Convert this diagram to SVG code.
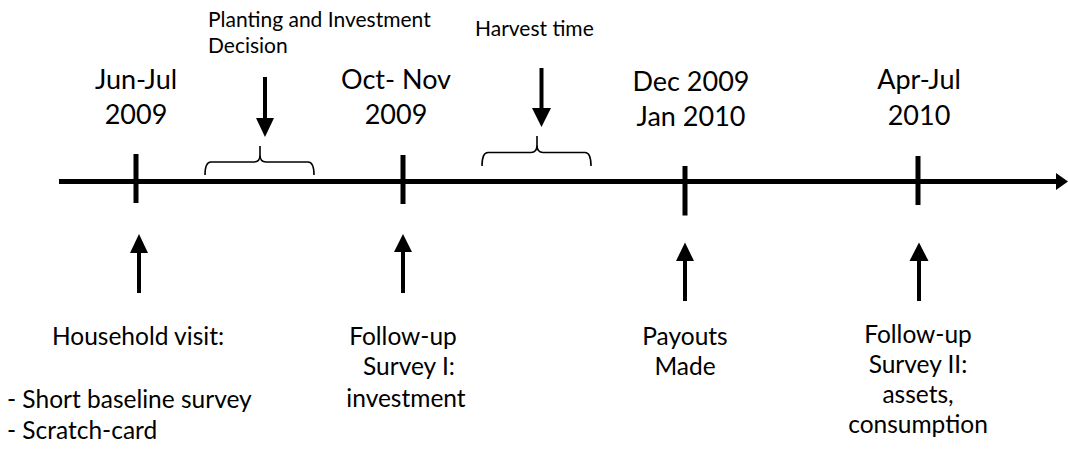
<svg xmlns="http://www.w3.org/2000/svg" width="1068" height="450" viewBox="0 0 1068 450">
<defs>
<style>
text{font-family:Lato,"Open Sans","Liberation Sans",sans-serif;fill:#000}
.big{font-size:27px;text-anchor:middle}
.mid{font-size:24.5px;text-anchor:middle}
.lft{font-size:24.5px}
.sm{font-size:21px}
.tick{stroke:#000;stroke-width:5;fill:none}
.shaft{stroke:#000;stroke-width:4;fill:none}
.brace{stroke:#000;stroke-width:1.6;fill:none}
.head{fill:#000}
</style>
</defs>
<rect width="1068" height="450" fill="#fff"/>
<g id="connectors">
<line x1="59" y1="181.5" x2="1058" y2="181.5" class="tick"/>
<polygon class="head" points="1056,173 1068,181.5 1056,190"/>
<line x1="136" y1="154" x2="136" y2="203" class="tick"/>
<line x1="403" y1="155" x2="403" y2="204" class="tick"/>
<line x1="685" y1="166" x2="685" y2="215.5" class="tick"/>
<line x1="918" y1="156" x2="918" y2="205" class="tick"/>
<line x1="139" y1="250" x2="139" y2="293" class="shaft"/>
<polygon class="head" points="139,234 148,253 130,253"/>
<line x1="403" y1="250" x2="403" y2="293" class="shaft"/>
<polygon class="head" points="403,234 412,252 394,252"/>
<line x1="685" y1="258" x2="685" y2="301" class="shaft"/>
<polygon class="head" points="685,242.5 694,261 676,261"/>
<line x1="919" y1="258" x2="919" y2="301" class="shaft"/>
<polygon class="head" points="919,242.5 928.5,261 909.5,261"/>
<line x1="265" y1="77" x2="265" y2="121" class="shaft"/>
<polygon class="head" points="256,118 274,118 265,137"/>
<line x1="541.5" y1="68" x2="541.5" y2="111" class="shaft"/>
<polygon class="head" points="532,108 551,108 541.5,127"/>
<path class="brace" d="M205,175 Q205,162 211,162 L254,162 Q260,162 260,155 L260,146 M260,155 Q260,162 266,162 L308,162 Q314,162 314,175"/>
<path class="brace" d="M482,166 Q482,152.5 488,152.5 L531,152.5 Q537,152.5 537,145 L537,136 M537,145 Q537,152.5 543,152.5 L585,152.5 Q591,152.5 591,166"/>
</g>
<g id="label-planting"><text class="sm" x="208" y="27">Planting and Investment</text><text class="sm" x="208" y="53">Decision</text></g>
<g id="label-harvest"><text class="sm" x="475" y="36">Harvest time</text></g>
<g id="date-junjul"><text class="big" x="136" y="89">Jun-Jul</text><text class="big" x="136" y="124">2009</text></g>
<g id="date-octnov"><text class="big" x="396" y="89">Oct- Nov</text><text class="big" x="396" y="124">2009</text></g>
<g id="date-decjan"><text class="big" x="691" y="90.5">Dec 2009</text><text class="big" x="691" y="125.5">Jan 2010</text></g>
<g id="date-aprjul"><text class="big" x="919" y="89">Apr-Jul</text><text class="big" x="919" y="124.5">2010</text></g>
<g id="event-household"><text class="mid" x="138" y="345">Household visit:</text><text class="lft" x="7" y="408">- Short baseline survey</text><text class="lft" x="7" y="439">- Scratch-card</text></g>
<g id="event-survey1"><text class="mid" x="403" y="345">Follow-up</text><text class="mid" x="409" y="375">Survey I:</text><text class="mid" x="406" y="406.5">investment</text></g>
<g id="event-payouts"><text class="mid" x="685" y="345">Payouts</text><text class="mid" x="685" y="375">Made</text></g>
<g id="event-survey2"><text class="mid" x="918" y="343">Follow-up</text><text class="mid" x="918" y="373">Survey II:</text><text class="mid" x="918" y="403">assets,</text><text class="mid" x="918" y="433">consumption</text></g>
</svg>
